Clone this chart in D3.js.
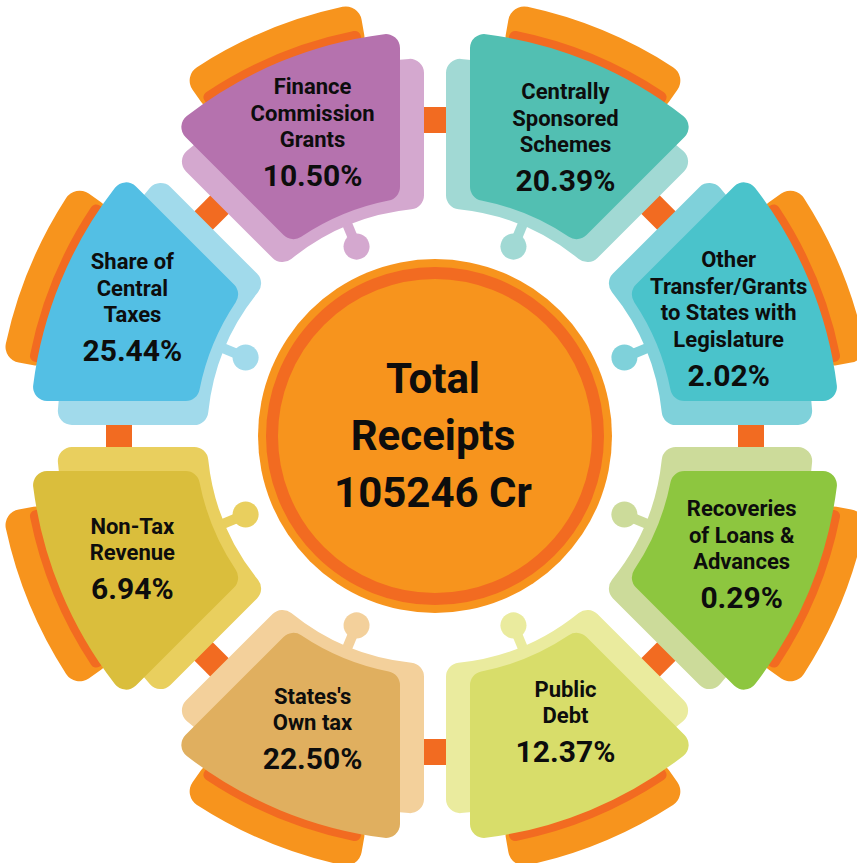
<!DOCTYPE html>
<html><head><meta charset="utf-8">
<script src="https://cdn.jsdelivr.net/npm/d3@7"></script>
<style>html,body{margin:0;padding:0;background:#fff;} svg{display:block;}</style>
</head><body><svg id="chart" width="857" height="863"></svg>
<script>
// ---- data ----
const categories = ["Finance Commission Grants","Centrally Sponsored Schemes","Other Transfer/Grants to States with Legislature","Recoveries of Loans & Advances","Public Debt","States's Own tax","Non-Tax Revenue","Share of Central Taxes"];
const labelLines = [["Finance","Commission","Grants"],["Centrally","Sponsored","Schemes"],["Other","Transfer/Grants","to States with","Legislature"],["Recoveries","of Loans &","Advances"],["Public","Debt"],["States's","Own tax"],["Non-Tax","Revenue"],["Share of","Central","Taxes"]];
const shares = [10.50, 20.39, 2.02, 0.29, 12.37, 22.50, 6.94, 25.44];
const totalLines = ["Total","Receipts","105246 Cr"];
const darkColors = ["#B572AE","#52BFB2","#4AC3CB","#8DC63F","#D8DD6A","#E0AF5F","#DABE3C","#53BFE4"];
const lightColors = ["#D4A8CF","#A1D9D4","#7FD1DA","#CCDB9A","#EAEB9E","#F3D09B","#E9CF5E","#A1DAEB"];

// ---- layout ----
const cx = 435, cy = 436;
const ORANGE = "#F7941D", DORANGE = "#F26B21";
const svg = d3.select("#chart");
const g = svg.append("g").attr("transform", `translate(${cx},${cy})`);

const pieData = d3.pie().value(() => 1).sort(null)
  .startAngle(-Math.PI/4).endAngle(2*Math.PI - Math.PI/4)(shares)
  .map((d, i) => ({...d, i, name: categories[i]}));

const padR = 1000;
const darkArc = d3.arc().innerRadius(240).outerRadius(405)
  .padRadius(padR).padAngle(2*Math.asin(35/padR)).cornerRadius(14);
const lightArc = d3.arc().innerRadius(228).outerRadius(378)
  .padRadius(padR).padAngle(2*Math.asin(11/padR)).cornerRadius(14);
const orangeArc = d3.arc().innerRadius(392).outerRadius(439).cornerRadius(16);
const orangeDarkArc = d3.arc().innerRadius(392).outerRadius(413).cornerRadius(6);
const deg = Math.PI/180;

// connectors
g.selectAll("rect.conn").data(pieData).join("rect")
  .attr("class","conn")
  .attr("x", -22).attr("y", -329).attr("width", 44).attr("height", 26)
  .attr("fill", DORANGE)
  .attr("transform", d => `rotate(${d.startAngle/deg})`);

// orange bands
g.selectAll("path.or").data(pieData).join("path")
  .attr("class","or").attr("fill", ORANGE)
  .attr("d", d => orangeArc({startAngle: d.startAngle + 10*deg, endAngle: d.endAngle - 10*deg}));
g.selectAll("path.ord").data(pieData).join("path")
  .attr("class","ord").attr("fill", DORANGE)
  .attr("d", d => orangeDarkArc({startAngle: d.startAngle + 10.5*deg, endAngle: d.endAngle - 10.5*deg}));

// knobs
const knob = g.selectAll("g.knob").data(pieData).join("g")
  .attr("class","knob")
  .attr("transform", d => `rotate(${(d.startAngle + d.endAngle)/2/deg})`);
knob.append("rect").attr("x", -5).attr("y", -236).attr("width", 10).attr("height", 32)
  .attr("fill", d => lightColors[d.i]);
knob.append("circle").attr("cx", 0).attr("cy", -205).attr("r", 13)
  .attr("fill", d => lightColors[d.i]);

// light shadow shapes
g.selectAll("path.light").data(pieData).join("path")
  .attr("class","light").attr("fill", d => lightColors[d.i]).attr("d", lightArc);
// dark shapes
g.selectAll("path.dark").data(pieData).join("path")
  .attr("class","dark").attr("fill", d => darkColors[d.i]).attr("d", darkArc);

// center circle
g.append("circle").attr("r", 177).attr("fill", ORANGE);
g.append("circle").attr("r", 163).attr("fill", "none").attr("stroke", DORANGE).attr("stroke-width", 12);

const font = "Roboto, 'DejaVu Sans', sans-serif";
g.append("text").attr("text-anchor","middle")
  .attr("font-family", font).attr("font-weight", 700).attr("font-size", 42).attr("fill", "#0d0d0d")
  .selectAll("tspan").data(totalLines).join("tspan")
  .attr("x", -2).attr("y", (d, k) => 450 - cy + (k - 1) * 57).text(d => d);

// labels (placed at the slice centroid, with small visual nudges)
const nudge = [[0,-8],[8,-3],[-2,5],[11,-4],[8,-10],[0,-3],[-7,0],[-7,-6]];
const lineH = 26.5, pctGap = 39, capH = 15.6;
const lab = g.selectAll("g.lab").data(pieData).join("g").attr("class","lab")
  .attr("transform", d => {
    const m = (d.startAngle + d.endAngle)/2;
    const n = labelLines[d.i].length;
    const h = (n - 1) * lineH + pctGap + capH;
    const x = 320 * Math.sin(m) + nudge[d.i][0], y = -320 * Math.cos(m) + nudge[d.i][1];
    return `translate(${x},${y - h/2 + capH})`;
  });
lab.append("text").attr("text-anchor","middle")
  .attr("font-family", font).attr("font-weight", 700).attr("font-size", 22).attr("fill", "#0d0d0d")
  .selectAll("tspan").data(d => labelLines[d.i]).join("tspan")
  .attr("x", 0).attr("y", (t, k) => k * lineH).text(t => t);
lab.append("text").attr("text-anchor","middle")
  .attr("font-family", font).attr("font-weight", 700).attr("font-size", 30).attr("fill", "#0d0d0d")
  .attr("x", 0).attr("y", d => (labelLines[d.i].length - 1) * lineH + pctGap)
  .text(d => d.data.toFixed(2) + "%");
</script></body></html>
